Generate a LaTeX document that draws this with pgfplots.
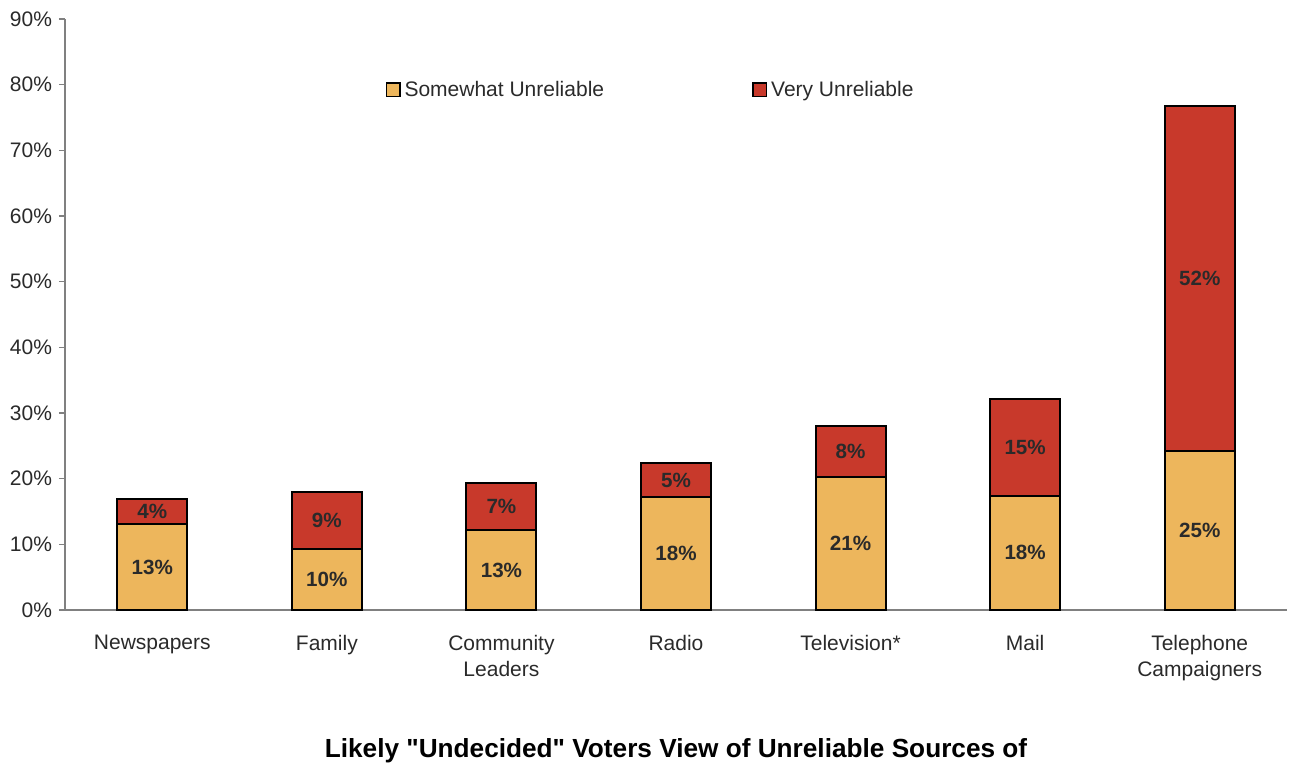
\documentclass[border=0pt]{standalone}
\usepackage{pgfplots}
\pgfplotsset{compat=1.18}
\usepackage{pgfplotstable}
\usepackage{fontspec}
\setmainfont{Liberation Sans}
\newfontfamily\qfont{Liberation Sans}[Ligatures=TeXOff]
\definecolor{tan}{HTML}{EDB65C}
\definecolor{vred}{HTML}{C8392B}
\definecolor{txt}{HTML}{2A2A2A}
\pgfplotstableread{
x s v t ls lv
0 13.1 3.8 16.9 13\% 4\%
1 9.3 8.7 18.0 10\% 9\%
2 12.2 7.1 19.3 13\% 7\%
3 17.2 5.2 22.4 18\% 5\%
4 20.2 7.8 28.0 21\% 8\%
5 17.4 14.7 32.1 18\% 15\%
6 24.2 52.5 76.7 25\% 52\%
}\data
\begin{document}
\begin{tikzpicture}
\path[use as bounding box] (-32.5pt,-77pt) rectangle (615pt,305pt);
\begin{axis}[
  at={(0,0)}, anchor=south west,
  scale only axis, width=611pt, height=295.5pt,
  xmin=-0.5, xmax=6.5, ymin=0, ymax=90,
  axis x line*=bottom, axis y line*=left,
  axis line style={draw=gray, line width=0.6pt},
  ytick={0,10,...,90},
  yticklabel={\pgfmathprintnumber{\tick}\%},
  /pgf/number format/assume math mode=true,
  tick align=outside,
  major tick length=3pt,
  every tick/.style={draw=gray, line width=0.6pt},
  yticklabel style={font=\fontsize{10.5}{12}\selectfont, text=txt},
  xtick={0,...,6},
  xticklabels={Newspapers,Family,{Community\\Leaders},Radio,Television*,Mail,{Telephone\\Campaigners}},
  xticklabel style={font=\fontsize{10.5}{13}\selectfont, text=txt, align=center, yshift=-6pt},
  x tick style={draw=none},
  extra x ticks={0.5,1.5,...,6.5},
  extra x tick labels={},
  extra x tick style={tick style={draw=gray, line width=0.6pt}, major tick length=3pt},
  legend style={draw=none, fill=none, at={(0.48,0.88)}, anchor=center,
    legend columns=2, font=\fontsize{10.5}{12}\selectfont, text=txt,
    /tikz/every even column/.append style={column sep=72pt}},
  legend cell align=left,
  legend image code/.code={\draw[#1,draw=black,line width=0.7pt] (0pt,-3.4pt) rectangle (6.8pt,3.4pt);},
  clip=false,
]
\addplot[ybar, bar width=35pt, bar shift=0pt, fill=vred, draw=black, line width=1pt, forget plot] table[x=x,y=t] {\data};
\addplot[ybar, bar width=35pt, bar shift=0pt, fill=tan, draw=black, line width=1pt, forget plot] table[x=x,y=s] {\data};
\addlegendimage{fill=tan}
\addlegendentry{Somewhat Unreliable}
\addlegendimage{fill=vred}
\addlegendentry{Very Unreliable}
\addplot[only marks, mark=none, point meta=explicit symbolic, nodes near coords,
  every node near coord/.append style={anchor=center, font=\bfseries\fontsize{10.3}{12}\selectfont, text=txt}]
  table[x=x, y expr=\thisrow{s}/2, meta=ls] {\data};
\addplot[only marks, mark=none, point meta=explicit symbolic, nodes near coords,
  every node near coord/.append style={anchor=center, font=\bfseries\fontsize{10.3}{12}\selectfont, text=txt}]
  table[x=x, y expr=\thisrow{s}+\thisrow{v}/2, meta=lv] {\data};
\end{axis}
\node[anchor=base, font=\qfont\bfseries\fontsize{13.1}{15}\selectfont, text=black] at (305.5pt,-74pt) {Likely "Undecided" Voters View of Unreliable Sources of};
\end{tikzpicture}
\end{document}
